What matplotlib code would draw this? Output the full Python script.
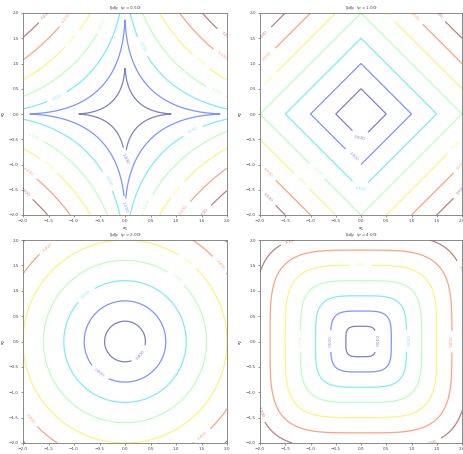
import numpy as np
import matplotlib
matplotlib.use("Agg")
import matplotlib.pyplot as plt

# Data
p_values = [0.5, 1.0, 2.0, 4.0]
titles = [r"$\|x\|_p$  $(p = 0.50)$", r"$\|x\|_p$  $(p = 1.00)$",
          r"$\|x\|_p$  $(p = 2.00)$", r"$\|x\|_p$  $(p = 4.00)$"]
levels_list = [
    [1.0, 2.0, 3.0, 4.0, 5.0, 6.0, 7.0],
    [0.5, 1.0, 1.5, 2.0, 2.5, 3.0, 3.5],
    [0.4, 0.8, 1.2, 1.6, 2.0, 2.4, 2.8],
    [0.3, 0.6, 0.9, 1.2, 1.5, 1.8, 2.1],
]
ticks = [-2.0, -1.5, -1.0, -0.5, 0.0, 0.5, 1.0, 1.5, 2.0]
grid = np.linspace(-2, 2, 800)

W, H = 463, 454
fig = plt.figure(figsize=(W / 100, H / 100), dpi=100)

rects = [
    (23, 13, 204, 202),
    (260, 13, 202, 202),
    (23, 240, 204, 203),
    (260, 240, 202, 203),
]

X, Y = np.meshgrid(grid, grid)
fs = 3.0
for i, (p, title, lev, r) in enumerate(zip(p_values, titles, levels_list, rects)):
    x0, y0, w, h = r
    ax = fig.add_axes([x0 / W, 1 - (y0 + h) / H, w / W, h / H])
    Z = (np.abs(X) ** p + np.abs(Y) ** p) ** (1.0 / p)
    cs = ax.contour(X, Y, Z, levels=lev, cmap="jet", alpha=0.5, linewidths=0.9)
    ax.clabel(cs, fmt="%.3f", fontsize=fs, inline=True)
    ax.set_xlim(-2, 2)
    ax.set_ylim(-2, 2)
    ax.set_xticks(ticks)
    ax.set_yticks(ticks)
    ax.tick_params(labelsize=fs, length=1.5, width=0.4, pad=1.5, colors="#444444")
    for s in ax.spines.values():
        s.set_linewidth(0.6)
        s.set_color("#777777")
    ax.set_title(title, fontsize=fs, pad=2, color="#444444")
    ax.set_xlabel(r"$x_1$", fontsize=fs, labelpad=1.5)
    ax.set_ylabel(r"$x_2$", fontsize=fs, labelpad=0.5)

fig.savefig("out.png", dpi=100)
